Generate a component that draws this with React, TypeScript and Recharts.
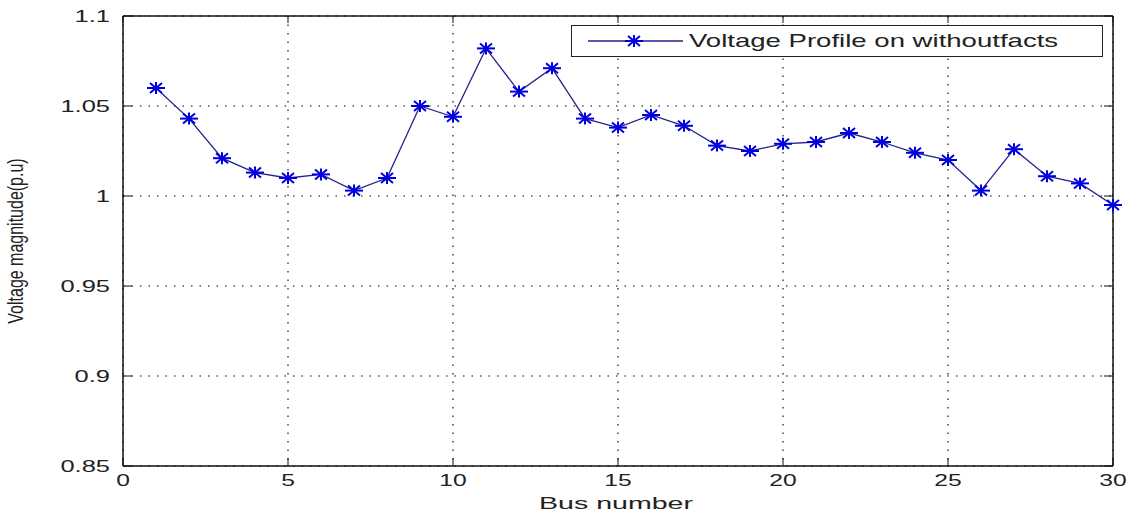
import React from "react";
import { CartesianGrid, Legend, Line, LineChart, XAxis, YAxis } from "recharts";

const buses = [1, 2, 3, 4, 5, 6, 7, 8, 9, 10, 11, 12, 13, 14, 15, 16, 17, 18, 19, 20, 21, 22, 23, 24, 25, 26, 27, 28, 29, 30];
const voltages = [
    1.060, 1.043, 1.021, 1.013, 1.010, 1.012, 1.003, 1.010, 1.050, 1.044,
    1.082, 1.058, 1.071, 1.043, 1.038, 1.045, 1.039, 1.028, 1.025, 1.029,
    1.030, 1.035, 1.030, 1.024, 1.020, 1.003, 1.026, 1.011, 1.007, 0.995
];
const xTicks = [0, 5, 10, 15, 20, 25, 30];
const yTicks = [0.85, 0.9, 0.95, 1, 1.05, 1.1];
const seriesName = "Voltage Profile on withoutfacts";

const data = buses.map((bus, i) => ({ bus, voltage: voltages[i] }));

const FONT = '"Liberation Sans", Arial, Helvetica, sans-serif';
const LINE_COLOR = "#22228c";
const MARK_COLOR = "#0000dd";
const AXIS = { stroke: "#111", strokeWidth: 1.5 };

function Star({ cx, cy }: { cx: number; cy: number }) {
    return (
        <g stroke={MARK_COLOR} strokeWidth={2}>
            <line x1={cx - 9} y1={cy} x2={cx + 9} y2={cy} />
            <line x1={cx} y1={cy - 6} x2={cx} y2={cy + 6} />
            <line x1={cx - 6} y1={cy - 5} x2={cx + 6} y2={cy + 5} />
            <line x1={cx - 6} y1={cy + 5} x2={cx + 6} y2={cy - 5} />
        </g>
    );
}

const XTick = (props: any) => {
    const { x, payload } = props;
    return (
        <text transform={`translate(${x},474) scale(1.45,1)`} textAnchor="middle" dy="0.72em"
            fontSize={17} fontFamily={FONT} fill="#222">
            {String(payload.value)}
        </text>
    );
};

const YTick = (props: any) => {
    const { y, payload } = props;
    return (
        <text transform={`translate(110,${y}) scale(1.5,1)`} textAnchor="end" dy="0.36em"
            fontSize={17} fontFamily={FONT} fill="#222">
            {String(payload.value)}
        </text>
    );
};

const Empty = () => <g />;

// rotated label; glyphs stretched sideways like the rest of the picture
const YLabel = (props: any) => {
    const vb = props.viewBox || {};
    const cy = (vb.y ?? 16) + (vb.height ?? 450) / 2;
    return (
        <text transform={`translate(15,${cy}) rotate(-90) scale(1,1.4)`} textAnchor="middle" dy="0.36em"
            fontSize={16} fontFamily={FONT} fill="#222">
            Voltage magnitude(p.u)
        </text>
    );
};

const XLabel = (props: any) => {
    const vb = props.viewBox || {};
    const cx = (vb.x ?? 123) + (vb.width ?? 990) / 2;
    return (
        <text transform={`translate(${cx - 2},509) scale(1.68,1)`} textAnchor="middle"
            fontSize={17} fontFamily={FONT} fill="#222">
            Bus number
        </text>
    );
};

const LegendBox = () => (
    <div style={{
        width: 532, height: 32, boxSizing: "border-box", border: "1.5px solid #222",
        background: "#fff", display: "flex", alignItems: "center", position: "relative"
    }}>
        <svg width={116} height={30} style={{ position: "absolute", left: 0, top: 0 }}>
            <line x1={16} y1={15} x2={111} y2={15} stroke={LINE_COLOR} strokeWidth={1.3} />
            <Star cx={62} cy={15} />
        </svg>
        <span style={{
            position: "absolute", left: 117, fontFamily: FONT, fontSize: 19, color: "#222",
            whiteSpace: "nowrap", transform: "scaleX(1.45)", transformOrigin: "left center"
        }}>
            {seriesName}
        </span>
    </div>
);

export default function App() {
    return (
        <div style={{ width: 1131, height: 519, background: "#fff" }}>
            <style>{"body{margin:0;background:#fff}"}</style>
            <LineChart width={1131} height={519} data={data} margin={{ top: 16, right: 18, left: 0, bottom: 0 }}>
                {/* inward tick marks and box (MATLAB style) */}
                <XAxis xAxisId="bm" orientation="bottom" mirror type="number" dataKey="bus" domain={[0, 30]}
                    allowDataOverflow ticks={xTicks} tick={Empty} tickSize={8} axisLine={false}
                    tickLine={{ stroke: "#111" }} />
                <XAxis xAxisId="top" orientation="top" mirror type="number" dataKey="bus" domain={[0, 30]}
                    allowDataOverflow ticks={xTicks} tick={Empty} tickSize={7} axisLine={AXIS}
                    tickLine={{ stroke: "#111" }} />
                <YAxis yAxisId="lm" orientation="left" mirror type="number" domain={[0.85, 1.1]}
                    allowDataOverflow ticks={yTicks} tick={Empty} tickSize={9} axisLine={false}
                    tickLine={{ stroke: "#111" }} />
                <YAxis yAxisId="r" orientation="right" mirror type="number" domain={[0.85, 1.1]}
                    allowDataOverflow ticks={yTicks} tick={Empty} tickSize={9} axisLine={AXIS}
                    tickLine={{ stroke: "#111" }} />

                <CartesianGrid stroke="#000" strokeWidth={1.1} strokeDasharray="1.5 7" />
                <XAxis dataKey="bus" type="number" domain={[0, 30]} ticks={xTicks} height={53}
                    axisLine={AXIS} tickLine={false} tick={XTick} label={<XLabel />} />
                <YAxis type="number" domain={[0.85, 1.1]} ticks={yTicks} width={123}
                    axisLine={AXIS} tickLine={false} tick={YTick} label={<YLabel />} />
                <Legend layout="vertical" align="center" verticalAlign="middle"
                    wrapperStyle={{ top: 25, left: 571, width: 532, height: 32 }}
                    content={() => <LegendBox />} />
                <Line dataKey="voltage" name={seriesName} stroke={LINE_COLOR} strokeWidth={1.3}
                    isAnimationActive={false}
                    dot={(p: any) => <Star key={p.index} cx={p.cx} cy={p.cy} />} activeDot={false} />
            </LineChart>
        </div>
    );
}
